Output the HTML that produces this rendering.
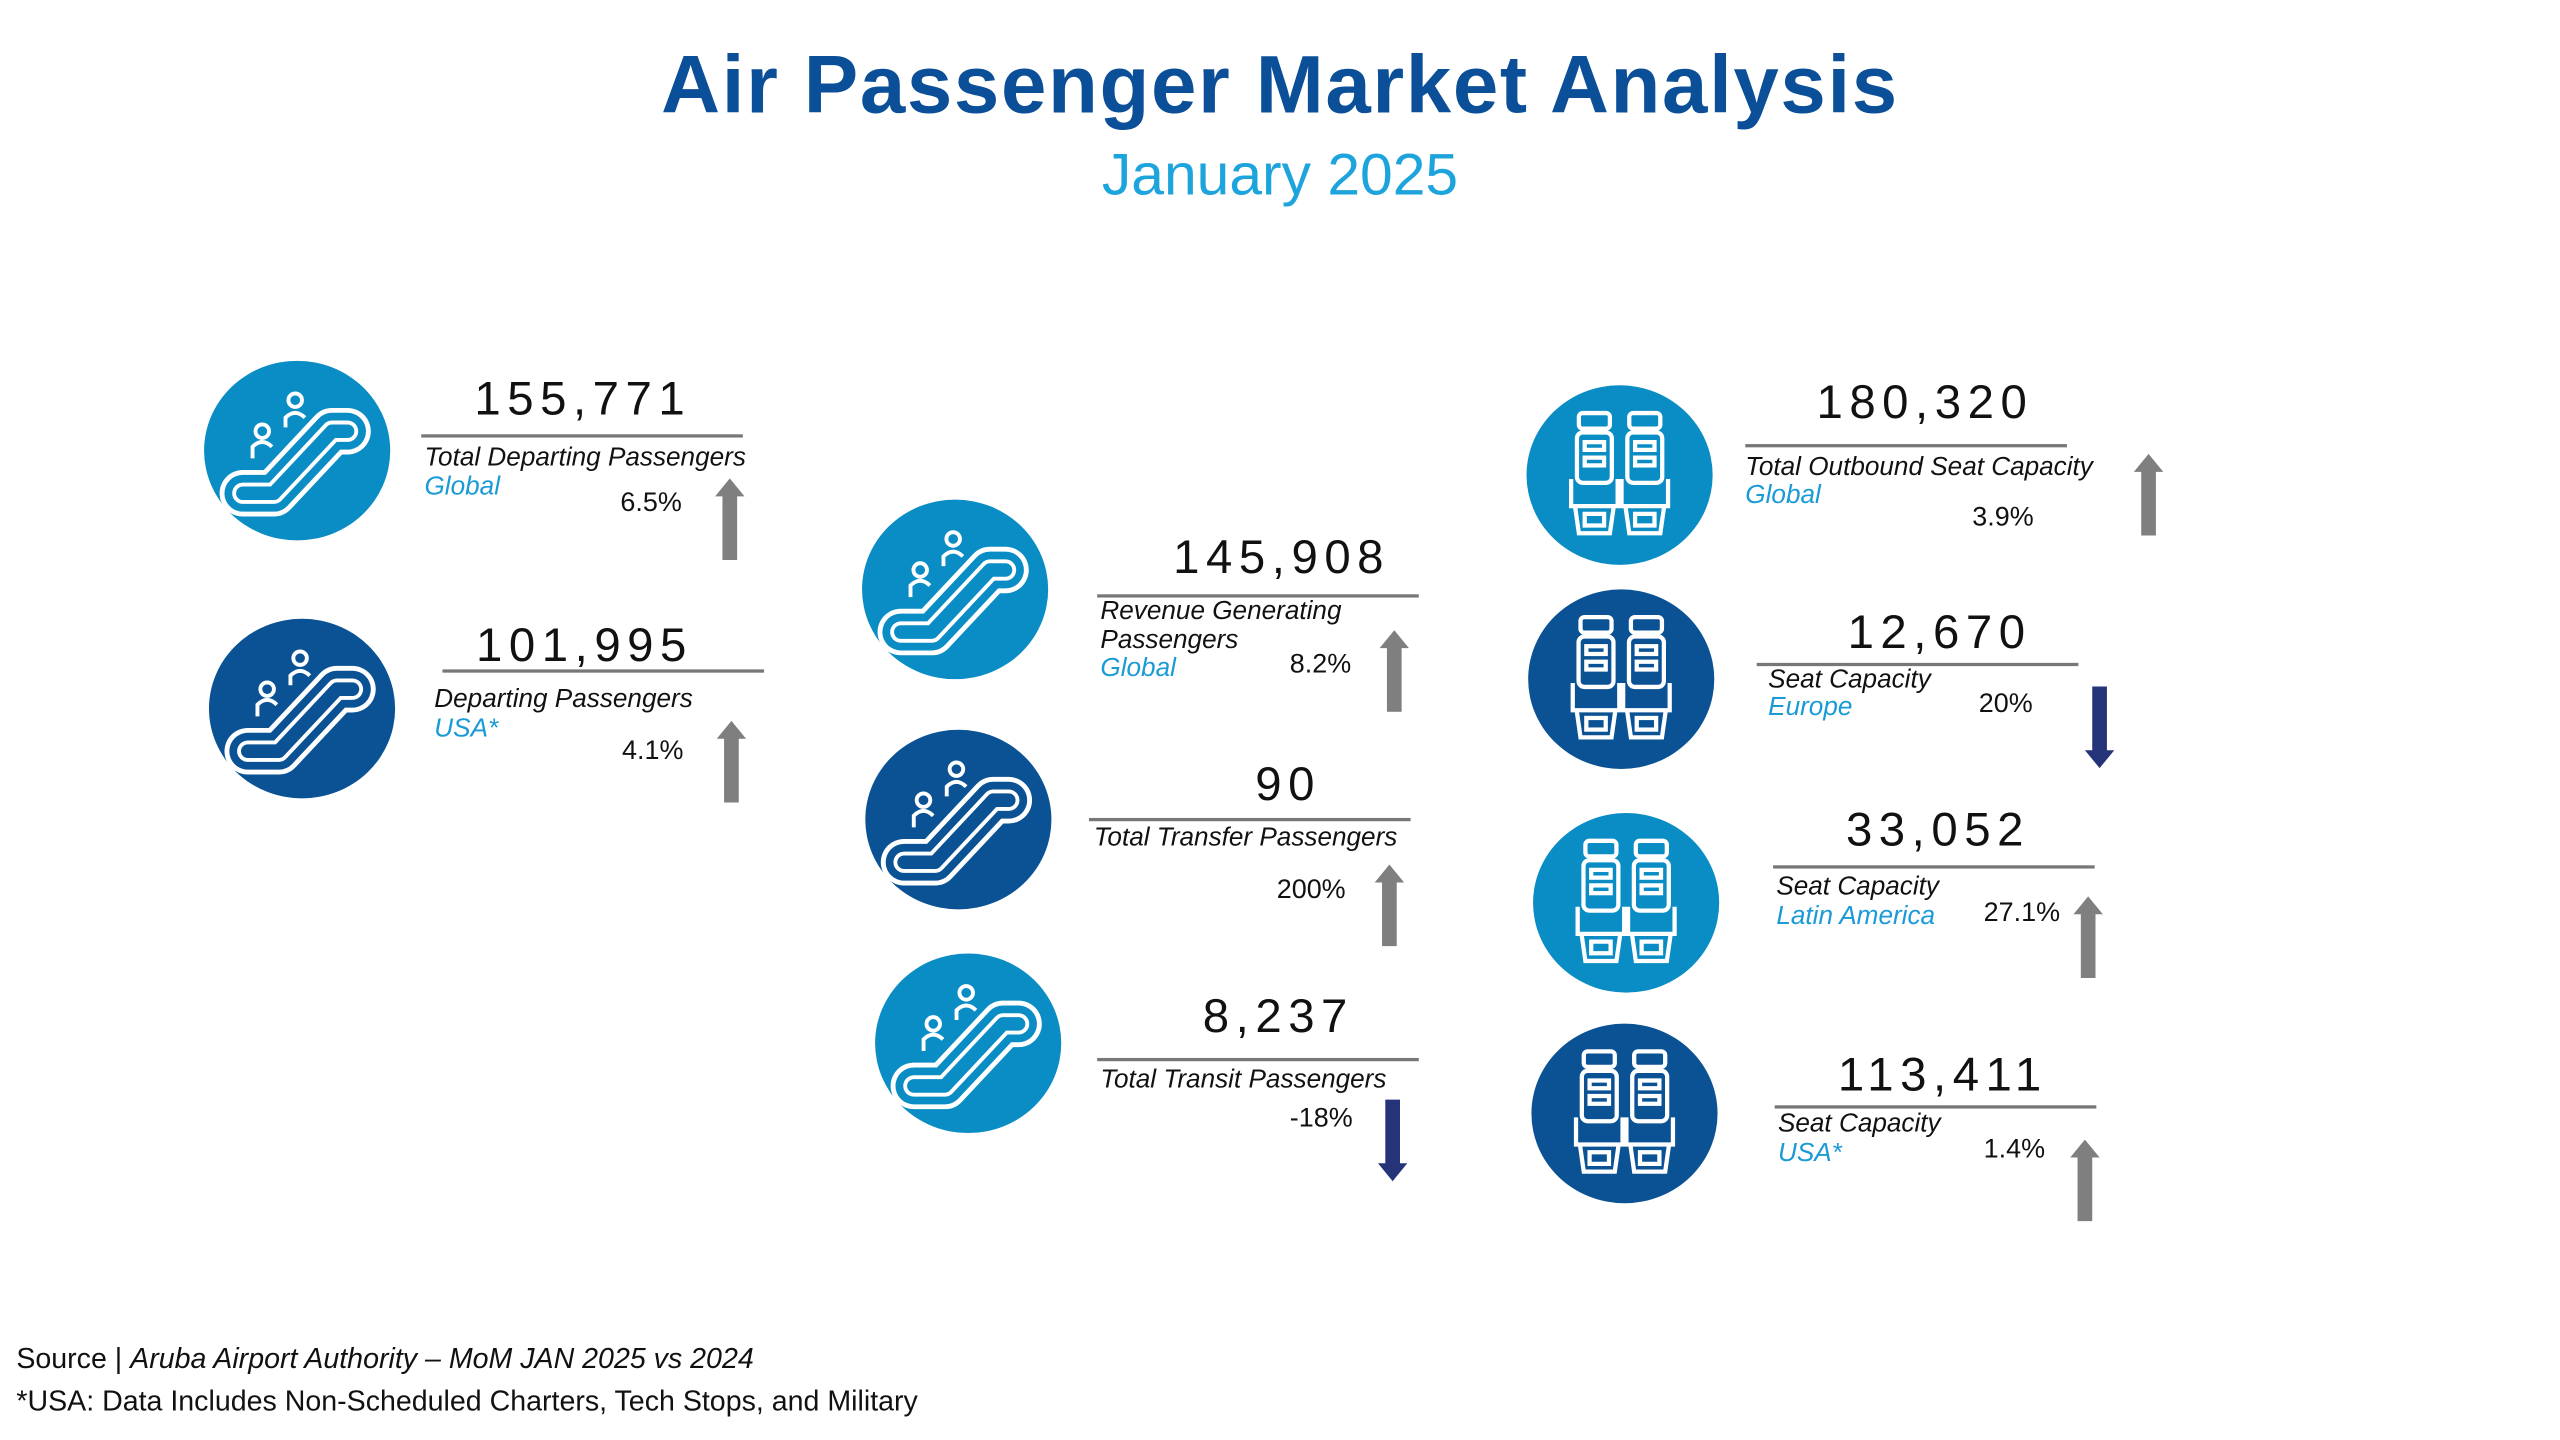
<!DOCTYPE html>
<html><head><meta charset="utf-8"><style>
html,body{margin:0;padding:0;background:#fff;width:2560px;height:1440px;overflow:hidden}
#s{position:absolute;left:0;top:0;width:1568px;height:882px;transform:scale(1.63265);transform-origin:0 0;font-family:"Liberation Sans",sans-serif;color:#111}
.a{position:absolute;line-height:1;white-space:nowrap}
.t{left:0;width:1568px;text-align:center;font-weight:bold;font-size:50px;color:#0b4f98;top:27px;letter-spacing:1px}
.st{left:0;width:1568px;text-align:center;font-size:36px;color:#1ea4dd;top:89px}
.n{width:240px;text-align:center;font-size:29px;letter-spacing:4px;color:#111}
.l{font-size:16px;font-style:italic;color:#111}
.g{font-size:16px;font-style:italic;color:#1a9ad6}
.p{font-size:16.5px;color:#111}
.hr{position:absolute;height:2px;background:#777;width:197px}
.c{position:absolute;width:114px;height:110px;border-radius:50%}
.lb{background:#0a8cc4}.db{background:#0a5294}
.c svg{position:absolute;left:0;top:0}
.f{left:10px;font-size:17.5px;color:#111}
</style></head><body><div id="s">
<svg width="0" height="0" style="position:absolute">
<defs>
<symbol id="esc" viewBox="-48 -46 96 92">
<path d="M-28,22 L-12,22 L18,-10 L26,-10" fill="none" stroke="#fff" stroke-width="24" stroke-linecap="round" stroke-linejoin="round"/>
<path d="M-28,22 L-12,22 L18,-10 L26,-10" fill="none" stroke="currentColor" stroke-width="19" stroke-linecap="round" stroke-linejoin="round"/>
<path d="M-28,22 L-12,22 L18,-10 L26,-10" fill="none" stroke="#fff" stroke-width="11" stroke-linecap="round" stroke-linejoin="round"/>
<path d="M-28,22 L-12,22 L18,-10 L26,-10" fill="none" stroke="currentColor" stroke-width="7" stroke-linecap="round" stroke-linejoin="round"/>
<circle cx="-18" cy="-10" r="3.5" fill="none" stroke="#fff" stroke-width="2"/>
<path d="M-23,4 L-23,-2 Q-18,-7 -13,-2 L-13,-2" fill="none" stroke="#fff" stroke-width="2"/>
<circle cx="-1" cy="-26" r="3.5" fill="none" stroke="#fff" stroke-width="2"/>
<path d="M-6,-12 L-6,-17 Q-1,-22 4,-17" fill="none" stroke="#fff" stroke-width="2"/>
</symbol>
<symbol id="seat" viewBox="-48 -46 96 92">
<g fill="none" stroke="#fff" stroke-width="2.2">
<rect x="-21" y="-32" width="16" height="8" rx="2"/><rect x="5" y="-32" width="16" height="8" rx="2"/>
<rect x="-22" y="-22" width="18" height="26" rx="3"/><rect x="4" y="-22" width="18" height="26" rx="3"/>
<rect x="-18" y="-17" width="10" height="4"/><rect x="-18" y="-9" width="10" height="4"/>
<rect x="8" y="-17" width="10" height="4"/><rect x="8" y="-9" width="10" height="4"/>
<path d="M-25,2 L-25,16 L-1,16 L-1,2 M25,2 L25,16 L1,16 L1,2"/>
<path d="M-23,16 L-21,30 L-5,30 L-3,16 M23,16 L21,30 L5,30 L3,16"/>
<rect x="-18" y="20" width="10" height="6"/><rect x="8" y="20" width="10" height="6"/>
</g>
</symbol>
<symbol id="up" viewBox="0 0 20 50"><path d="M10,0 L19,11 L14.5,11 L14.5,50 L5.5,50 L5.5,11 L1,11 Z" fill="#7f7f7f"/></symbol>
<symbol id="dn" viewBox="0 0 20 50"><path d="M10,50 L19,39 L14.5,39 L14.5,0 L5.5,0 L5.5,39 L1,39 Z" fill="#253478"/></symbol>
</defs></svg>

<div class="a t">Air Passenger Market Analysis</div>
<div class="a st">January 2025</div>

<div class="c lb" style="left:125px;top:221px;color:#0a8cc4"><svg width="114" height="110"><use href="#esc"/></svg></div>
<div class="a n" style="left:237px;top:231px">155,771</div>
<div class="hr" style="left:258px;top:266px"></div>
<div class="a l" style="left:260px;top:273px">Total Departing Passengers</div>
<div class="a g" style="left:260px;top:291px">Global</div>
<div class="a p" style="left:380px;top:300px">6.5%</div>
<svg class="a" style="left:437px;top:293px" width="20" height="50"><use href="#up"/></svg>

<div class="c db" style="left:128px;top:379px;color:#0a5294"><svg width="114" height="110"><use href="#esc"/></svg></div>
<div class="a n" style="left:238px;top:382px">101,995</div>
<div class="hr" style="left:271px;top:410px"></div>
<div class="a l" style="left:266px;top:421px">Departing Passengers</div>
<div class="a g" style="left:266px;top:439px">USA*</div>
<div class="a p" style="left:381px;top:452px">4.1%</div>
<svg class="a" style="left:438px;top:441px" width="20" height="51"><use href="#up"/></svg>

<div class="c lb" style="left:528px;top:306px;color:#0a8cc4"><svg width="114" height="110"><use href="#esc"/></svg></div>
<div class="a n" style="left:665px;top:328px">145,908</div>
<div class="hr" style="left:672px;top:364px"></div>
<div class="a l" style="left:674px;top:367px">Revenue Generating</div>
<div class="a l" style="left:674px;top:385px">Passengers</div>
<div class="a g" style="left:674px;top:402px">Global</div>
<div class="a p" style="left:790px;top:399px">8.2%</div>
<svg class="a" style="left:844px;top:386px" width="20" height="50"><use href="#up"/></svg>

<div class="c db" style="left:530px;top:447px;color:#0a5294"><svg width="114" height="110"><use href="#esc"/></svg></div>
<div class="a n" style="left:669px;top:467px">90</div>
<div class="hr" style="left:667px;top:501px"></div>
<div class="a l" style="left:670px;top:506px">Total Transfer Passengers</div>
<div class="a p" style="left:782px;top:537px">200%</div>
<svg class="a" style="left:841px;top:529px" width="20" height="51"><use href="#up"/></svg>

<div class="c lb" style="left:536px;top:584px;color:#0a8cc4"><svg width="114" height="110"><use href="#esc"/></svg></div>
<div class="a n" style="left:663px;top:609px">8,237</div>
<div class="hr" style="left:672px;top:648px"></div>
<div class="a l" style="left:674px;top:654px">Total Transit Passengers</div>
<div class="a p" style="left:790px;top:677px">-18%</div>
<svg class="a" style="left:843px;top:673px" width="20" height="51"><use href="#dn"/></svg>

<div class="c lb" style="left:935px;top:236px;color:#0a8cc4"><svg width="114" height="110"><use href="#seat"/></svg></div>
<div class="a n" style="left:1059px;top:233px">180,320</div>
<div class="hr" style="left:1069px;top:272px"></div>
<div class="a l" style="left:1069px;top:279px">Total Outbound Seat Capacity</div>
<div class="a g" style="left:1069px;top:296px">Global</div>
<div class="a p" style="left:1208px;top:309px">3.9%</div>
<svg class="a" style="left:1306px;top:278px" width="20" height="50"><use href="#up"/></svg>

<div class="c db" style="left:936px;top:361px;color:#0a5294"><svg width="114" height="110"><use href="#seat"/></svg></div>
<div class="a n" style="left:1068px;top:374px">12,670</div>
<div class="hr" style="left:1076px;top:406px"></div>
<div class="a l" style="left:1083px;top:409px">Seat Capacity</div>
<div class="a g" style="left:1083px;top:426px">Europe</div>
<div class="a p" style="left:1212px;top:423px">20%</div>
<svg class="a" style="left:1276px;top:420px" width="20" height="51"><use href="#dn"/></svg>

<div class="c lb" style="left:939px;top:498px;color:#0a8cc4"><svg width="114" height="110"><use href="#seat"/></svg></div>
<div class="a n" style="left:1067px;top:495px">33,052</div>
<div class="hr" style="left:1086px;top:530px"></div>
<div class="a l" style="left:1088px;top:536px">Seat Capacity</div>
<div class="a g" style="left:1088px;top:554px">Latin America</div>
<div class="a p" style="left:1215px;top:551px">27.1%</div>
<svg class="a" style="left:1269px;top:549px" width="20" height="50"><use href="#up"/></svg>

<div class="c db" style="left:938px;top:627px;color:#0a5294"><svg width="114" height="110"><use href="#seat"/></svg></div>
<div class="a n" style="left:1070px;top:645px">113,411</div>
<div class="hr" style="left:1087px;top:677px"></div>
<div class="a l" style="left:1089px;top:681px">Seat Capacity</div>
<div class="a g" style="left:1089px;top:699px">USA*</div>
<div class="a p" style="left:1215px;top:696px">1.4%</div>
<svg class="a" style="left:1267px;top:698px" width="20" height="50"><use href="#up"/></svg>

<div class="a f" style="top:824px">Source | <i>Aruba Airport Authority – MoM JAN 2025 vs 2024</i></div>
<div class="a f" style="top:850px">*USA: Data Includes Non-Scheduled Charters, Tech Stops, and Military</div>
</div></body></html>
